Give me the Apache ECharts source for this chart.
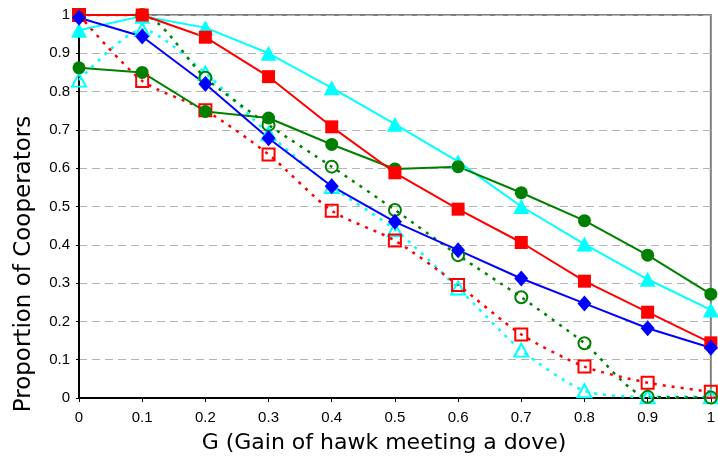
<!DOCTYPE html>
<html>
<head>
<meta charset="utf-8">
<script src="https://cdn.jsdelivr.net/npm/echarts@6/dist/echarts.min.js"></script>
<style>
  html, body { margin: 0; padding: 0; background: #ffffff; }
  #chart { width: 718px; height: 462px; }
</style>
</head>
<body>
<div id="chart"></div>
<script>
// G values along the x axis
const gainValues = [0, 0.1, 0.2, 0.3, 0.4, 0.5, 0.6, 0.7, 0.8, 0.9, 1];

// Solid-line series (filled markers)
const redSquares     = [1.0, 1.0, 0.942, 0.839, 0.708, 0.588, 0.493, 0.406, 0.305, 0.224, 0.144];
const cyanTriangles  = [0.96, 0.997, 0.967, 0.90, 0.81, 0.715, 0.617, 0.50, 0.402, 0.310, 0.230];
const greenCircles   = [0.862, 0.850, 0.748, 0.731, 0.662, 0.598, 0.604, 0.536, 0.463, 0.373, 0.271];
const blueDiamonds   = [0.993, 0.944, 0.820, 0.678, 0.553, 0.460, 0.386, 0.312, 0.247, 0.182, 0.131];

// Dotted-line series (open markers)
const redOpenSquares    = [1.0, 0.828, 0.751, 0.636, 0.489, 0.411, 0.295, 0.166, 0.082, 0.040, 0.016];
const cyanOpenTriangles = [0.83, 0.962, 0.848, 0.69, 0.552, 0.440, 0.287, 0.125, 0.019, 0.003, 0.003];
const greenOpenCircles  = [1.0, 1.0, 0.836, 0.713, 0.604, 0.491, 0.373, 0.263, 0.143, 0.003, 0.001];

// Axis tick values
const yTicks = [0, 0.1, 0.2, 0.3, 0.4, 0.5, 0.6, 0.7, 0.8, 0.9, 1];

const RED = '#ff0000', CYAN = '#00ffff', GREEN = '#008000', BLUE = '#0000ff';

function pairs(values) {
  return gainValues.map((g, i) => [g, values[i]]);
}

function solidSeries(name, values, color, symbol, size) {
  return {
    name, type: 'line', data: pairs(values),
    symbol, symbolSize: size,
    itemStyle: { color },
    lineStyle: { color, width: 2 },
    emphasis: { disabled: true },
    animation: false
  };
}

function dottedSeries(name, values, color, symbol, size) {
  return {
    name, type: 'line', data: pairs(values),
    smooth: 0.25,
    symbol, symbolSize: size,
    itemStyle: { color: 'rgba(0,0,0,0)', borderColor: color, borderWidth: 2 },
    lineStyle: { color, width: 2.5, type: [3, 6] },
    emphasis: { disabled: true },
    animation: false
  };
}

const chart = echarts.init(document.getElementById('chart'), null, { renderer: 'canvas' });

chart.setOption({
  backgroundColor: '#ffffff',
  animation: false,
  grid: {
    left: 79, right: 1, top: 15, bottom: 64,
    show: true, borderColor: '#808080', borderWidth: 2, backgroundColor: 'transparent'
  },
  xAxis: {
    type: 'value', min: 0, max: 1, interval: 0.1,
    axisLine: { show: true, lineStyle: { color: '#000000', width: 2 } },
    axisTick: { show: true, length: 4, lineStyle: { color: '#000000', width: 1 } },
    axisLabel: {
      margin: 12, color: '#000000', fontFamily: 'Liberation Sans', fontSize: 15,
      formatter: v => String(Math.round(v * 10) / 10)
    },
    splitLine: { show: false }
  },
  yAxis: {
    type: 'value', min: 0, max: 1, interval: 0.1,
    axisLine: { show: true, lineStyle: { color: '#000000', width: 2 } },
    axisTick: { show: true, length: 3, lineStyle: { color: '#000000', width: 1 } },
    axisLabel: {
      margin: 9, color: '#000000', fontFamily: 'Liberation Sans', fontSize: 15,
      formatter: v => String(yTicks[Math.round(v * 10)])
    },
    splitLine: { show: true, lineStyle: { color: '#b4b4b4', width: 1, type: [8, 5] } }
  },
  graphic: [
    {
      type: 'text', position: [384, 443],
      style: {
        text: 'G (Gain of hawk meeting a dove)', x: 0, y: 0,
        fill: '#000000', font: '22px "DejaVu Sans"',
        textAlign: 'center', textVerticalAlign: 'middle'
      }
    },
    {
      type: 'text', rotation: Math.PI / 2, position: [24, 264],
      style: {
        text: 'Proportion of Cooperators', x: 0, y: 0,
        fill: '#000000', font: '23px "DejaVu Sans"',
        textAlign: 'center', textVerticalAlign: 'middle'
      }
    }
  ],
  series: [
    dottedSeries('cyanOpen', cyanOpenTriangles, CYAN, 'triangle', [14, 13]),
    dottedSeries('redOpen', redOpenSquares, RED, 'rect', [12, 12]),
    dottedSeries('greenOpen', greenOpenCircles, GREEN, 'circle', 12),
    solidSeries('cyan', cyanTriangles, CYAN, 'triangle', [16, 15]),
    solidSeries('green', greenCircles, GREEN, 'circle', 13),
    solidSeries('red', redSquares, RED, 'rect', [13, 13]),
    solidSeries('blue', blueDiamonds, BLUE, 'diamond', [14, 16])
  ]
});
</script>
</body>
</html>
